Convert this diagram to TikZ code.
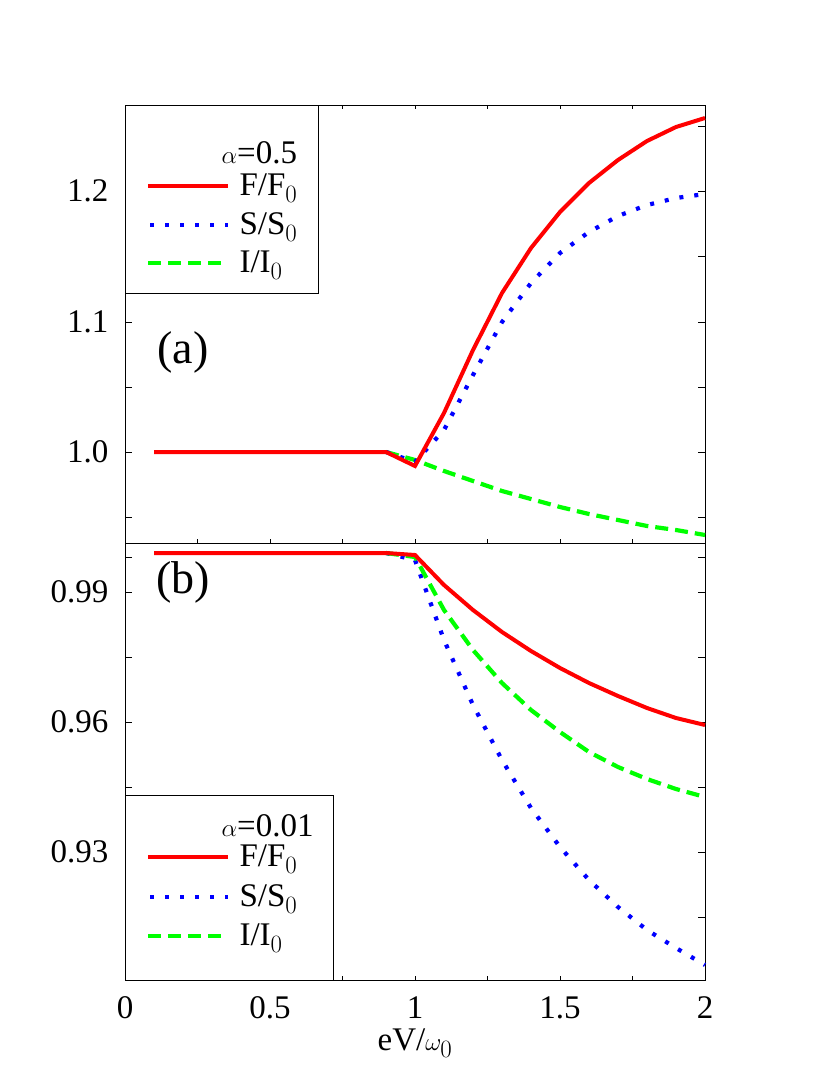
\documentclass[tikz,border=0pt]{standalone}
\usepackage{fontspec}
\setmainfont{Liberation Serif}
\tikzstyle{fcurve}=[red, line width=4pt]
\tikzstyle{scurve}=[blue, line width=4.2pt, dash pattern=on 4pt off 11pt]
\tikzstyle{icurve}=[green, line width=4.2pt, dash pattern=on 13pt off 7pt]
\tikzstyle{ticklab}=[font=\fontsize{33}{36}\selectfont]

\begin{document}
\begin{tikzpicture}[x=1pt, y=-1pt, thin]
\useasboundingbox (0,0) rectangle (830,1090);
% Frames
    \draw (125,105) rectangle (705,980);
    \draw (125,543) -- (705,543);
% X ticks
    \foreach \v in {0.25,0.5,...,1.76} {
        \draw (125+290*\v,980) -- ++(0,-4);
        \draw (125+290*\v,543) -- ++(0,-4);
        \draw (125+290*\v,105) -- ++(0,4);
    }
    \foreach \v/\t in {0/0,0.5/0.5,1/1,1.5/1.5,2/2}
        \node[ticklab] (x\t) at (125+290*\v,1008) {\t};
    \node[ticklab, anchor=north] (xlab) at (415,1025) {eV/$\omega_0$};
% Y ticks, top panel
    \foreach \y in {126,191,256,322,387,452,517}
        {\draw (125,\y) -- ++(7,0); \draw (705,\y) -- ++(-7,0);}
    \node[ticklab, anchor=east] (ya) at (112,191) {1.2};
    \node[ticklab, anchor=east] (yb) at (112,322) {1.1};
    \node[ticklab, anchor=east] (yc) at (112,452) {1.0};
% Y ticks, bottom panel
    \foreach \y in {557,592,657,722,787,852,917}
        {\draw (125,\y) -- ++(7,0); \draw (705,\y) -- ++(-7,0);}
    \node[ticklab, anchor=east] (yd) at (112,592) {0.99};
    \node[ticklab, anchor=east] (ye) at (112,722) {0.96};
    \node[ticklab, anchor=east] (yf) at (112,852) {0.93};
% Panel labels
    \node[font=\fontsize{46}{50}\selectfont] (pa) at (183,352) {(a)};
    \node[font=\fontsize{46}{50}\selectfont] (pb) at (183,582) {(b)};
% Curves, top panel
\begin{scope}[xshift=125pt, x=290pt]
    \draw[icurve] (0.9,452) -- (1.0,460) -- (1.1,471) -- (1.2,481) -- (1.3,491)
        -- (1.4,499) -- (1.5,507) -- (1.6,514) -- (1.7,520) -- (1.8,526) -- (1.9,530) -- (2.0,535);
    \draw[scurve] (0.9,452) -- (1.0,462) -- (1.1,430) -- (1.2,375) -- (1.3,322)
        -- (1.4,283) -- (1.5,253) -- (1.6,232) -- (1.7,216) -- (1.8,205) -- (1.9,198) -- (2.0,194);
    \draw[fcurve] (0.1,452) -- (0.9,452) -- (1.0,466) -- (1.1,413) -- (1.2,350) -- (1.3,293)
        -- (1.4,248) -- (1.5,212) -- (1.6,183) -- (1.7,160) -- (1.8,141) -- (1.9,127) -- (2.0,118);
% Curves, bottom panel
    \draw[scurve] (0.9,553) -- (1.0,560) -- (1.1,640) -- (1.2,705) -- (1.3,760)
        -- (1.4,808) -- (1.5,847) -- (1.6,880) -- (1.7,907) -- (1.8,930) -- (1.9,948) -- (2.0,965);
    \draw[icurve] (0.9,553) -- (1.0,557) -- (1.1,610) -- (1.2,650) -- (1.3,683)
        -- (1.4,710) -- (1.5,732) -- (1.6,752) -- (1.7,767) -- (1.8,779) -- (1.9,789) -- (2.0,797);
    \draw[fcurve] (0.1,553) -- (0.9,553) -- (1.0,555) -- (1.1,585) -- (1.2,610) -- (1.3,632)
        -- (1.4,651) -- (1.5,668) -- (1.6,683) -- (1.7,696) -- (1.8,708) -- (1.9,718) -- (2.0,725);
\end{scope}
% Legend, top
    \draw[fill=white] (125,105) rectangle (318,293);
    \node[ticklab, anchor=west] (la) at (218,153) {$\alpha$=0.5};
    \draw[fcurve] (148,186) -- (228,186);
    \node[ticklab, anchor=west] (lf) at (236,188) {F/F$_0$};
    \draw[scurve] (150,225) -- (228,225);
    \node[ticklab, anchor=west] (ls) at (236,227) {S/S$_0$};
    \draw[icurve] (148,263) -- (228,263);
    \node[ticklab, anchor=west] (li) at (236,265) {I/I$_0$};
% Legend, bottom
    \draw[fill=white] (125,795) rectangle (333,980);
    \node[ticklab, anchor=west] (lb) at (218,826) {$\alpha$=0.01};
    \draw[fcurve] (148,857) -- (228,857);
    \node[ticklab, anchor=west] (mf) at (236,859) {F/F$_0$};
    \draw[scurve] (150,897) -- (228,897);
    \node[ticklab, anchor=west] (ms) at (236,899) {S/S$_0$};
    \draw[icurve] (148,936) -- (228,936);
    \node[ticklab, anchor=west] (mi) at (236,938) {I/I$_0$};
\end{tikzpicture}
\end{document}
